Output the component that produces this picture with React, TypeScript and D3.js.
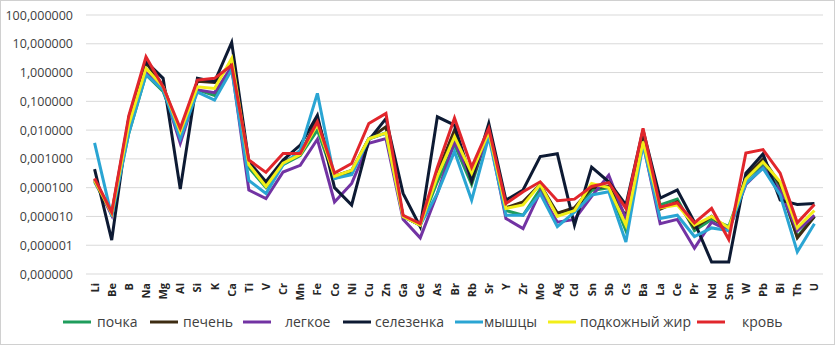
import React, { useEffect, useRef } from 'react';
import * as d3 from 'd3';

const elements = ['Li', 'Be', 'B', 'Na', 'Mg', 'Al', 'Si', 'K', 'Ca', 'Ti', 'V', 'Cr', 'Mn', 'Fe', 'Co', 'Ni', 'Cu', 'Zn', 'Ga', 'Ge', 'As', 'Br', 'Rb', 'Sr', 'Y', 'Zr', 'Mo', 'Ag', 'Cd', 'Sn', 'Sb', 'Cs', 'Ba', 'La', 'Ce', 'Pr', 'Nd', 'Sm', 'W', 'Pb', 'Bi', 'Th', 'U'];

const pochka = [1.6e-4, 1.3e-5, 7.9e-3, 0.85, 0.22, 6.3e-3, 0.25, 0.16, 1.4, 5.0e-4, 1.0e-4, 6.3e-4, 1.3e-3, 1.0e-2, 2.1e-4, 3.2e-4, 5.0e-3, 7.9e-3, 1.0e-5, 5.0e-6, 1.6e-4, 3.2e-3, 1.3e-4, 8.9e-3, 1.6e-5, 1.1e-5, 8.9e-5, 1.3e-5, 1.8e-5, 7.9e-5, 1.0e-4, 3.2e-6, 3.5e-3, 2.5e-5, 4.0e-5, 3.2e-6, 7.9e-6, 4.5e-6, 2.0e-4, 6.3e-4, 1.0e-4, 2.0e-6, 1.0e-5];
const pechen = [2.0e-4, 1.3e-5, 2.5e-2, 2.2, 0.35, 7.9e-3, 0.5, 0.45, 2.2, 6.3e-4, 1.4e-4, 7.9e-4, 1.4e-3, 2.5e-2, 2.5e-4, 4.0e-4, 5.0e-3, 1.3e-2, 1.0e-5, 5.0e-6, 3.2e-4, 1.0e-2, 1.6e-4, 1.0e-2, 2.0e-5, 3.2e-5, 1.3e-4, 1.3e-5, 2.0e-5, 1.0e-4, 1.1e-4, 1.0e-5, 7.9e-3, 1.8e-5, 3.2e-5, 4.0e-6, 1.0e-5, 3.2e-6, 2.5e-4, 1.0e-3, 1.3e-4, 1.8e-6, 1.0e-5];
const legkoe = [1.8e-4, 1.1e-5, 1.3e-2, 1.0, 0.28, 3.5e-3, 0.25, 0.2, 1.6, 8.3e-5, 4.2e-5, 3.5e-4, 6.0e-4, 4.8e-3, 3.2e-5, 1.4e-4, 3.5e-3, 5.1e-3, 7.9e-6, 1.8e-6, 6.3e-5, 4.0e-3, 2.0e-4, 7.9e-3, 8.5e-6, 3.8e-6, 7.1e-5, 6.3e-6, 7.9e-6, 5.0e-5, 2.7e-4, 7.9e-6, 3.5e-3, 5.6e-6, 7.9e-6, 7.9e-7, 6.3e-6, 3.2e-6, 1.3e-4, 5.0e-4, 7.9e-5, 3.2e-6, 1.1e-5];
const selezenka = [4.4e-4, 1.5e-6, 2.8e-2, 2.4, 0.63, 8.9e-5, 0.63, 0.48, 11.2, 7.9e-4, 1.6e-4, 9.1e-4, 3.0e-3, 3.3e-2, 1.0e-4, 2.5e-5, 4.5e-3, 2.5e-2, 6.3e-5, 4.4e-6, 2.9e-2, 1.5e-2, 1.8e-4, 1.7e-2, 3.7e-5, 8.3e-5, 1.2e-3, 1.5e-3, 5.0e-6, 5.2e-4, 1.6e-4, 2.5e-5, 1.0e-2, 4.3e-5, 8.3e-5, 6.3e-6, 2.6e-7, 2.6e-7, 3.2e-4, 1.5e-3, 3.7e-5, 2.6e-5, 2.8e-5];
const myshcy = [3.6e-3, 1.0e-5, 7.9e-3, 0.85, 0.25, 5.1e-3, 0.21, 0.11, 1.26, 1.8e-4, 6.3e-5, 6.3e-4, 2.0e-3, 0.19, 2.1e-4, 2.8e-4, 5.0e-3, 7.9e-3, 1.0e-5, 5.0e-6, 6.3e-5, 1.8e-3, 3.7e-5, 5.9e-3, 1.1e-5, 1.1e-5, 6.3e-5, 4.4e-6, 1.4e-5, 5.6e-5, 7.2e-5, 1.3e-6, 3.2e-3, 8.5e-6, 1.1e-5, 2.0e-6, 4.0e-6, 3.2e-6, 1.4e-4, 4.7e-4, 5.6e-5, 5.9e-7, 5.6e-6];
const zhir = [1.8e-4, 1.3e-5, 1.6e-2, 1.4, 0.32, 8.9e-3, 0.32, 0.28, 3.1, 6.3e-4, 1.1e-4, 7.1e-4, 1.4e-3, 1.6e-2, 2.5e-4, 4.0e-4, 5.0e-3, 8.0e-3, 1.0e-5, 5.0e-6, 2.5e-4, 5.9e-3, 3.2e-4, 8.9e-3, 1.9e-5, 2.5e-5, 1.3e-4, 1.0e-5, 1.6e-5, 1.4e-4, 1.0e-4, 5.0e-6, 4.0e-3, 2.0e-5, 2.5e-5, 5.0e-6, 1.0e-5, 4.0e-6, 2.0e-4, 7.9e-4, 1.6e-4, 4.0e-6, 1.6e-5];
const krov = [2.1e-4, 1.4e-5, 3.2e-2, 3.5, 0.32, 1.15e-2, 0.55, 0.63, 1.8, 9.1e-4, 3.4e-4, 1.55e-3, 1.55e-3, 1.95e-2, 3.2e-4, 6.9e-4, 1.7e-2, 3.8e-2, 1.1e-5, 5.6e-6, 5.0e-4, 2.6e-2, 5.2e-4, 1.15e-2, 2.8e-5, 7.2e-5, 1.6e-4, 3.5e-5, 4.0e-5, 1.1e-4, 1.5e-4, 1.9e-5, 1.15e-2, 2.1e-5, 3.0e-5, 6.0e-6, 1.9e-5, 1.6e-6, 1.6e-3, 2.1e-3, 3.2e-4, 6.0e-6, 2.6e-5];

const seriesNames = ['почка', 'печень', 'легкое', 'селезенка', 'мышцы', 'подкожный жир', 'кровь'];
const seriesColors = ['#1f9d5c', '#3d2c12', '#7233a3', '#0d1a33', '#2aa5d3', '#f2ee18', '#e1262c'];
const yTicks = [100, 10, 1, 0.1, 0.01, 0.001, 0.0001, 0.00001, 0.000001, 0.0000001];

const App = () => {
    const svgRef = useRef<SVGSVGElement>(null);

    useEffect(() => {
        const width = 838;
        const height = 352;
        const left = 86;
        const right = 823;
        const top = 15;
        const bottom = 274;

        const svg = d3.select(svgRef.current);
        svg.selectAll('*').remove();

        svg.append('rect')
            .attr('x', 0.5).attr('y', 0.5)
            .attr('width', width - 4).attr('height', height - 8)
            .attr('fill', '#fff')
            .attr('stroke', '#d0d0d0');

        const x = d3.scaleBand().domain(elements).range([left, right]);
        const y = d3.scaleLog().domain([1e-7, 100]).range([bottom, top]);
        const fmt = (d: number) => d.toFixed(6).replace('.', ',');

        svg.append('g')
            .selectAll('line')
            .data(yTicks)
            .enter()
            .append('line')
            .attr('x1', left).attr('x2', right)
            .attr('y1', d => y(d)).attr('y2', d => y(d))
            .attr('stroke', '#d9d9d9')
            .attr('stroke-width', 1);

        svg.append('g')
            .selectAll('text')
            .data(yTicks)
            .enter()
            .append('text')
            .attr('x', 73)
            .attr('y', d => y(d) + 4.5)
            .attr('text-anchor', 'end')
            .style('font-family', '"Open Sans", sans-serif')
            .style('font-size', '12.5px')
            .style('fill', '#404040')
            .text(d => fmt(d));

        svg.append('g')
            .selectAll('text')
            .data(elements)
            .enter()
            .append('text')
            .attr('transform', d => `translate(${(x(d) as number) + x.bandwidth() / 2 + 4}, 283) rotate(-90)`)
            .attr('text-anchor', 'end')
            .style('font-family', '"Open Sans", sans-serif')
            .style('font-size', '11px')
            .style('font-weight', 'bold')
            .style('fill', '#262626')
            .text(d => d);

        const allSeries = [pochka, pechen, legkoe, selezenka, myshcy, zhir, krov];
        const line = d3.line<number>()
            .x((_, i) => (x(elements[i]) as number) + x.bandwidth() / 2)
            .y(d => y(d));

        svg.append('g')
            .selectAll('path')
            .data(allSeries)
            .enter()
            .append('path')
            .attr('d', d => line(d))
            .attr('fill', 'none')
            .attr('stroke', (_, i) => seriesColors[i])
            .attr('stroke-width', 3)
            .attr('stroke-linejoin', 'miter');

        const legendX = [63, 150, 243, 343, 455, 548, 697];
        const legendTextX = [97, 183, 285, 375, 484, 580, 742];
        const legend = svg.append('g');
        seriesNames.forEach((name, i) => {
            legend.append('line')
                .attr('x1', legendX[i]).attr('x2', legendX[i] + 28)
                .attr('y1', 322).attr('y2', 322)
                .attr('stroke', seriesColors[i])
                .attr('stroke-width', 3);
            legend.append('text')
                .attr('x', legendTextX[i])
                .attr('y', 327)
                .style('font-family', '"Open Sans", sans-serif')
                .style('font-size', '14px')
                .style('fill', '#404040')
                .text(name);
        });
    }, []);

    return (
        <svg
            ref={svgRef}
            width={838}
            height={352}
            style={{ position: 'absolute', left: 0, top: 0, background: '#fff' }}
        />
    );
};

export default App;
